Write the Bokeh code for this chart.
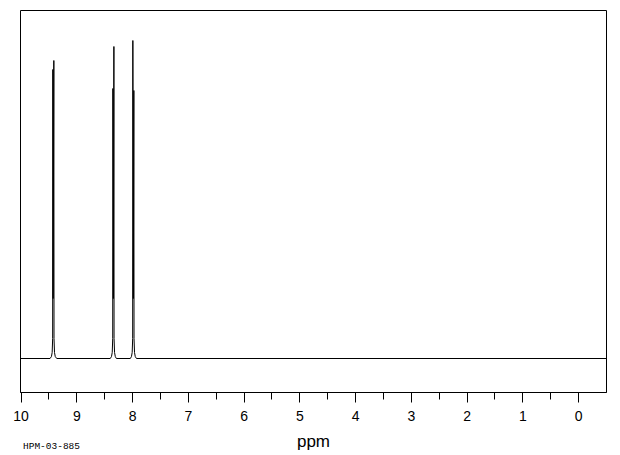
from bokeh.plotting import figure
from bokeh.models import Range1d, FixedTicker, LinearAxis
from bokeh.embed import file_html
from bokeh.resources import INLINE

# spectrum trace: chemical shift (ppm) and intensity (arbitrary units)
spec_ppm = [10.01,
            9.48, 9.455, 9.442, 9.433, 9.430, 9.4245, 9.412, 9.409, 9.400, 9.387, 9.36,
            8.40, 8.378, 8.365, 8.356, 8.353, 8.344, 8.335, 8.332, 8.323, 8.310, 8.29,
            8.04, 8.020, 8.007, 7.998, 7.995, 7.986, 7.977, 7.974, 7.965, 7.952, 7.93,
            -0.50]
spec_int = [0,
            0, 2, 6, 20, 289, 60, 298, 20, 6, 2, 0,
            0, 2, 6, 20, 270, 60, 312, 20, 6, 2, 0,
            0, 2, 6, 20, 318, 60, 268, 20, 6, 2, 0,
            0]

major_ticks = [10, 9, 8, 7, 6, 5, 4, 3, 2, 1, 0]
minor_ticks = [9.5, 8.5, 7.5, 6.5, 5.5, 4.5, 3.5, 2.5, 1.5, 0.5]
x_label = "ppm"
sample_id = "HPM-03-885"
sample_id_pos = 9.454

p = figure(width=612, height=455, output_backend="svg", toolbar_location=None,
           x_range=Range1d(10.01, -0.50), y_range=Range1d(-34, 348),
           y_axis_location=None,
           min_border_left=20, min_border_right=6, min_border_top=10, min_border_bottom=63)

p.line(spec_ppm, spec_int, line_color="black", line_width=1)

p.xgrid.visible = False
p.ygrid.visible = False
p.outline_line_color = "black"
p.outline_line_width = 1
p.outline_line_alpha = 1
p.background_fill_color = "white"
p.border_fill_color = "white"

ax = p.xaxis[0]
ax.ticker = FixedTicker(ticks=major_ticks, minor_ticks=minor_ticks)
ax.major_tick_out = 10
ax.major_tick_in = 0
ax.minor_tick_out = 7
ax.minor_tick_in = 0
ax.major_tick_line_color = "black"
ax.minor_tick_line_color = "black"
ax.axis_line_color = "black"
ax.major_label_text_font = "Liberation Sans"
ax.major_label_text_font_size = "14px"
ax.major_label_text_color = "black"
ax.major_label_standoff = 8
ax.axis_label = x_label
ax.axis_label_text_font = "Liberation Sans"
ax.axis_label_text_font_size = "17px"
ax.axis_label_text_font_style = "normal"
ax.axis_label_text_color = "black"
ax.axis_label_standoff = 8

# second axis that only carries the sample identifier at the lower left
id_axis = LinearAxis(ticker=FixedTicker(ticks=[sample_id_pos], minor_ticks=[]),
                     major_label_overrides={sample_id_pos: sample_id})
id_axis.axis_line_color = None
id_axis.major_tick_line_color = None
id_axis.minor_tick_line_color = None
id_axis.major_tick_out = 0
id_axis.major_tick_in = 0
id_axis.minor_tick_out = 0
id_axis.minor_tick_in = 0
id_axis.major_label_text_font = "Liberation Mono"
id_axis.major_label_text_font_size = "9.5px"
id_axis.major_label_text_color = "black"
id_axis.major_label_standoff = -13
p.add_layout(id_axis, "below")

open("out.html", "w").write(file_html(p, INLINE))
